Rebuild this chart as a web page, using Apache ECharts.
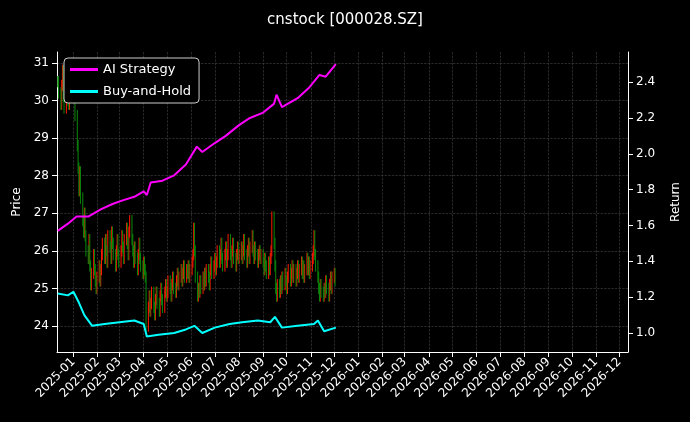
<!DOCTYPE html>
<html><head><meta charset="utf-8">
<script src="https://cdn.jsdelivr.net/npm/echarts@6/dist/echarts.min.js"></script>
<style>html,body{margin:0;background:#000}#c{width:690px;height:422px}</style>
</head><body><div id="c"></div>
<script>
const startDay = '2024-12-12';
const closes = [
30.5,30.2,29.9,30.4,30.8,30.1,29.8,30.3,30.6,30.0,29.9,30.4,30.7,30.2,
30.9,30.3,29.6,28.8,28.2,27.6,28.1,27.4,26.8,26.5,27.0,26.4,26.0,25.8,26.3,25.6,25.1,25.4,25.9,25.5,25.2,25.0,25.3,
25.6,25.2,25.5,25.9,26.2,25.8,26.3,26.0,25.7,26.4,26.1,25.8,26.5,26.2,25.9,25.6,26.0,26.3,25.9,25.7,
26.0,26.4,26.1,25.8,26.3,26.6,26.2,25.9,26.5,26.8,26.3,26.0,25.7,26.1,25.8,25.5,25.9,26.2,25.8,25.6,25.4,
25.7,25.5,25.3,24.0,24.5,24.8,24.4,24.6,24.9,24.5,24.3,24.7,24.9,24.6,24.4,24.8,25.0,24.7,24.5,24.9,25.1,24.8,
24.9,25.2,25.0,24.8,25.1,25.3,25.0,24.9,25.2,25.4,25.1,25.3,25.5,25.2,25.4,25.6,25.3,25.5,25.4,25.6,25.3,25.5,
25.7,25.9,26.6,26.0,25.3,24.8,25.0,24.9,25.2,25.0,25.3,25.1,25.4,25.2,25.5,25.3,25.1,25.5,25.7,25.4,25.6,
25.8,25.5,25.7,26.0,25.7,25.9,26.2,25.8,25.6,25.9,26.1,25.7,25.9,26.3,25.9,25.7,26.0,26.2,25.8,25.6,25.9,26.1,25.8,
25.9,26.1,25.8,26.0,26.3,25.9,25.7,26.0,26.2,25.8,26.1,26.4,26.0,25.8,26.1,25.9,25.7,25.9,26.0,25.8,25.9,
25.7,25.5,25.8,25.6,25.4,25.7,25.5,25.8,26.0,26.9,26.2,25.6,25.0,24.8,25.1,24.9,25.2,25.0,25.3,25.1,25.4,25.2,
25.0,25.3,25.5,25.2,25.4,25.6,25.3,25.5,25.2,25.4,25.6,25.3,25.5,25.7,25.4,25.6,25.3,25.5,25.8,25.5,25.7,25.4,25.6,
25.8,26.0,26.4,25.9,25.6,25.3,25.0,24.8,25.1,24.9,24.8,25.0,24.9,25.2,25.0,24.8,25.1,25.3,25.0,25.3,
25.4,25.2];
const aiDates = ['2024-12-12','2024-12-25','2025-01-05','2025-01-20','2025-02-05','2025-02-20','2025-03-05','2025-03-20','2025-04-01','2025-04-05','2025-04-10','2025-04-25','2025-05-10','2025-05-25','2025-06-08','2025-06-15','2025-07-01','2025-07-15','2025-08-01','2025-08-15','2025-09-01','2025-09-15','2025-09-18','2025-09-25','2025-10-15','2025-10-30','2025-11-12','2025-11-20','2025-12-03'];
const aiVals = [1.57,1.61,1.65,1.65,1.69,1.72,1.74,1.76,1.79,1.77,1.84,1.85,1.88,1.94,2.04,2.01,2.06,2.10,2.16,2.20,2.23,2.28,2.33,2.26,2.31,2.37,2.44,2.43,2.50];
const bhDates = ['2024-12-12','2024-12-25','2025-01-01','2025-01-08','2025-01-15','2025-01-25','2025-02-10','2025-03-01','2025-03-20','2025-04-01','2025-04-05','2025-04-20','2025-05-10','2025-05-25','2025-06-05','2025-06-15','2025-07-01','2025-07-20','2025-08-05','2025-08-25','2025-09-10','2025-09-16','2025-09-25','2025-10-15','2025-11-05','2025-11-10','2025-11-18','2025-12-03'];
const bhVals = [1.22,1.21,1.23,1.17,1.10,1.04,1.05,1.06,1.07,1.05,0.98,0.99,1.00,1.02,1.04,1.00,1.03,1.05,1.06,1.07,1.06,1.09,1.03,1.04,1.05,1.07,1.01,1.03];
const priceTicks = [24,25,26,27,28,29,30,31];
const retTicks = [1.0,1.2,1.4,1.6,1.8,2.0,2.2,2.4];

function fmt(d){return d.toISOString().slice(0,10);}
const cats=[]; {let d=new Date('2024-12-11T00:00:00Z'); const end=new Date('2026-12-12T00:00:00Z'); while(d<=end){cats.push(fmt(d)); d=new Date(d.getTime()+86400000);}}
const idx={}; cats.forEach((c,i)=>idx[c]=i);
const candle=cats.map(()=>'-');
{let d=new Date(startDay+'T00:00:00Z'); let prev=closes[0]; let k=0;
 while(k<closes.length){const w=d.getUTCDay(); if(w!==0&&w!==6){const c=closes[k]; const o=prev; candle[idx[fmt(d)]]=[o,c,Math.min(o,c)-0.15,Math.max(o,c)+0.15]; prev=c; k++;} d=new Date(d.getTime()+86400000);} }
function lineData(ds,vs){const a=cats.map(()=>null); ds.forEach((d,i)=>a[idx[d]]=vs[i]); return a;}
const isMonth=(i,v)=>v.slice(8)==='01';
const ch=echarts.init(document.getElementById('c'));
ch.setOption({
 backgroundColor:'#000', animation:false,
 title:{text:'cnstock [000028.SZ]',left:'center',top:8,textStyle:{color:'#fff',fontSize:15,fontWeight:'normal',fontFamily:'DejaVu Sans'}},
 legend:{orient:'vertical',left:64,top:58,backgroundColor:'#000',borderColor:'#ccc',borderWidth:1,borderRadius:4,padding:[5,8,5,6],itemGap:9,itemWidth:28,itemHeight:3,
  textStyle:{color:'#fff',fontSize:13,fontFamily:'DejaVu Sans'},data:[{name:'AI Strategy',icon:'rect'},{name:'Buy-and-Hold',icon:'rect'}]},
 grid:{left:57,right:61,top:52,bottom:70},
 xAxis:{type:'category',data:cats,boundaryGap:false,
  axisLine:{lineStyle:{color:'#fff'}},
  axisTick:{interval:isMonth,lineStyle:{color:'#fff'}},
  axisLabel:{interval:isMonth,rotate:45,color:'#fff',fontSize:12,fontFamily:'DejaVu Sans',formatter:v=>v.slice(0,7)},
  splitLine:{show:true,interval:isMonth,lineStyle:{color:'#444',type:'dashed',width:0.6}}},
 yAxis:[
  {type:'value',min:23.31,max:31.29,name:'Price',nameLocation:'middle',nameGap:34,nameTextStyle:{color:'#fff',fontSize:12,fontFamily:'DejaVu Sans'},
   axisLine:{show:true,lineStyle:{color:'#fff'}},
   axisTick:{show:true,customValues:priceTicks,lineStyle:{color:'#fff'}},
   axisLabel:{customValues:priceTicks,color:'#fff',fontSize:12,fontFamily:'DejaVu Sans'},
   splitLine:{show:true,lineStyle:{color:'#444',type:'dashed',width:0.6}}},
  {type:'value',min:0.894,max:2.568,name:'Return',nameLocation:'middle',nameGap:42,nameTextStyle:{color:'#fff',fontSize:12,fontFamily:'DejaVu Sans'},
   axisLine:{show:true,lineStyle:{color:'#fff'}},
   axisTick:{show:true,customValues:retTicks,lineStyle:{color:'#fff'}},
   axisLabel:{customValues:retTicks,color:'#fff',fontSize:12,fontFamily:'DejaVu Sans',formatter:v=>v.toFixed(1)},
   splitLine:{show:false}}],
 series:[
  {type:'candlestick',data:candle,barMaxWidth:1.5,itemStyle:{color:'#ff1a00',color0:'#0a8a0a',borderColor:'#ff1a00',borderColor0:'#0a8a0a',borderWidth:1}},
  {name:'AI Strategy',type:'line',yAxisIndex:1,data:lineData(aiDates,aiVals),connectNulls:true,showSymbol:false,lineStyle:{color:'#ff00ff',width:2},itemStyle:{color:'#ff00ff'}},
  {name:'Buy-and-Hold',type:'line',yAxisIndex:1,data:lineData(bhDates,bhVals),connectNulls:true,showSymbol:false,lineStyle:{color:'#00ffff',width:2},itemStyle:{color:'#00ffff'}}
 ]
});
</script></body></html>
